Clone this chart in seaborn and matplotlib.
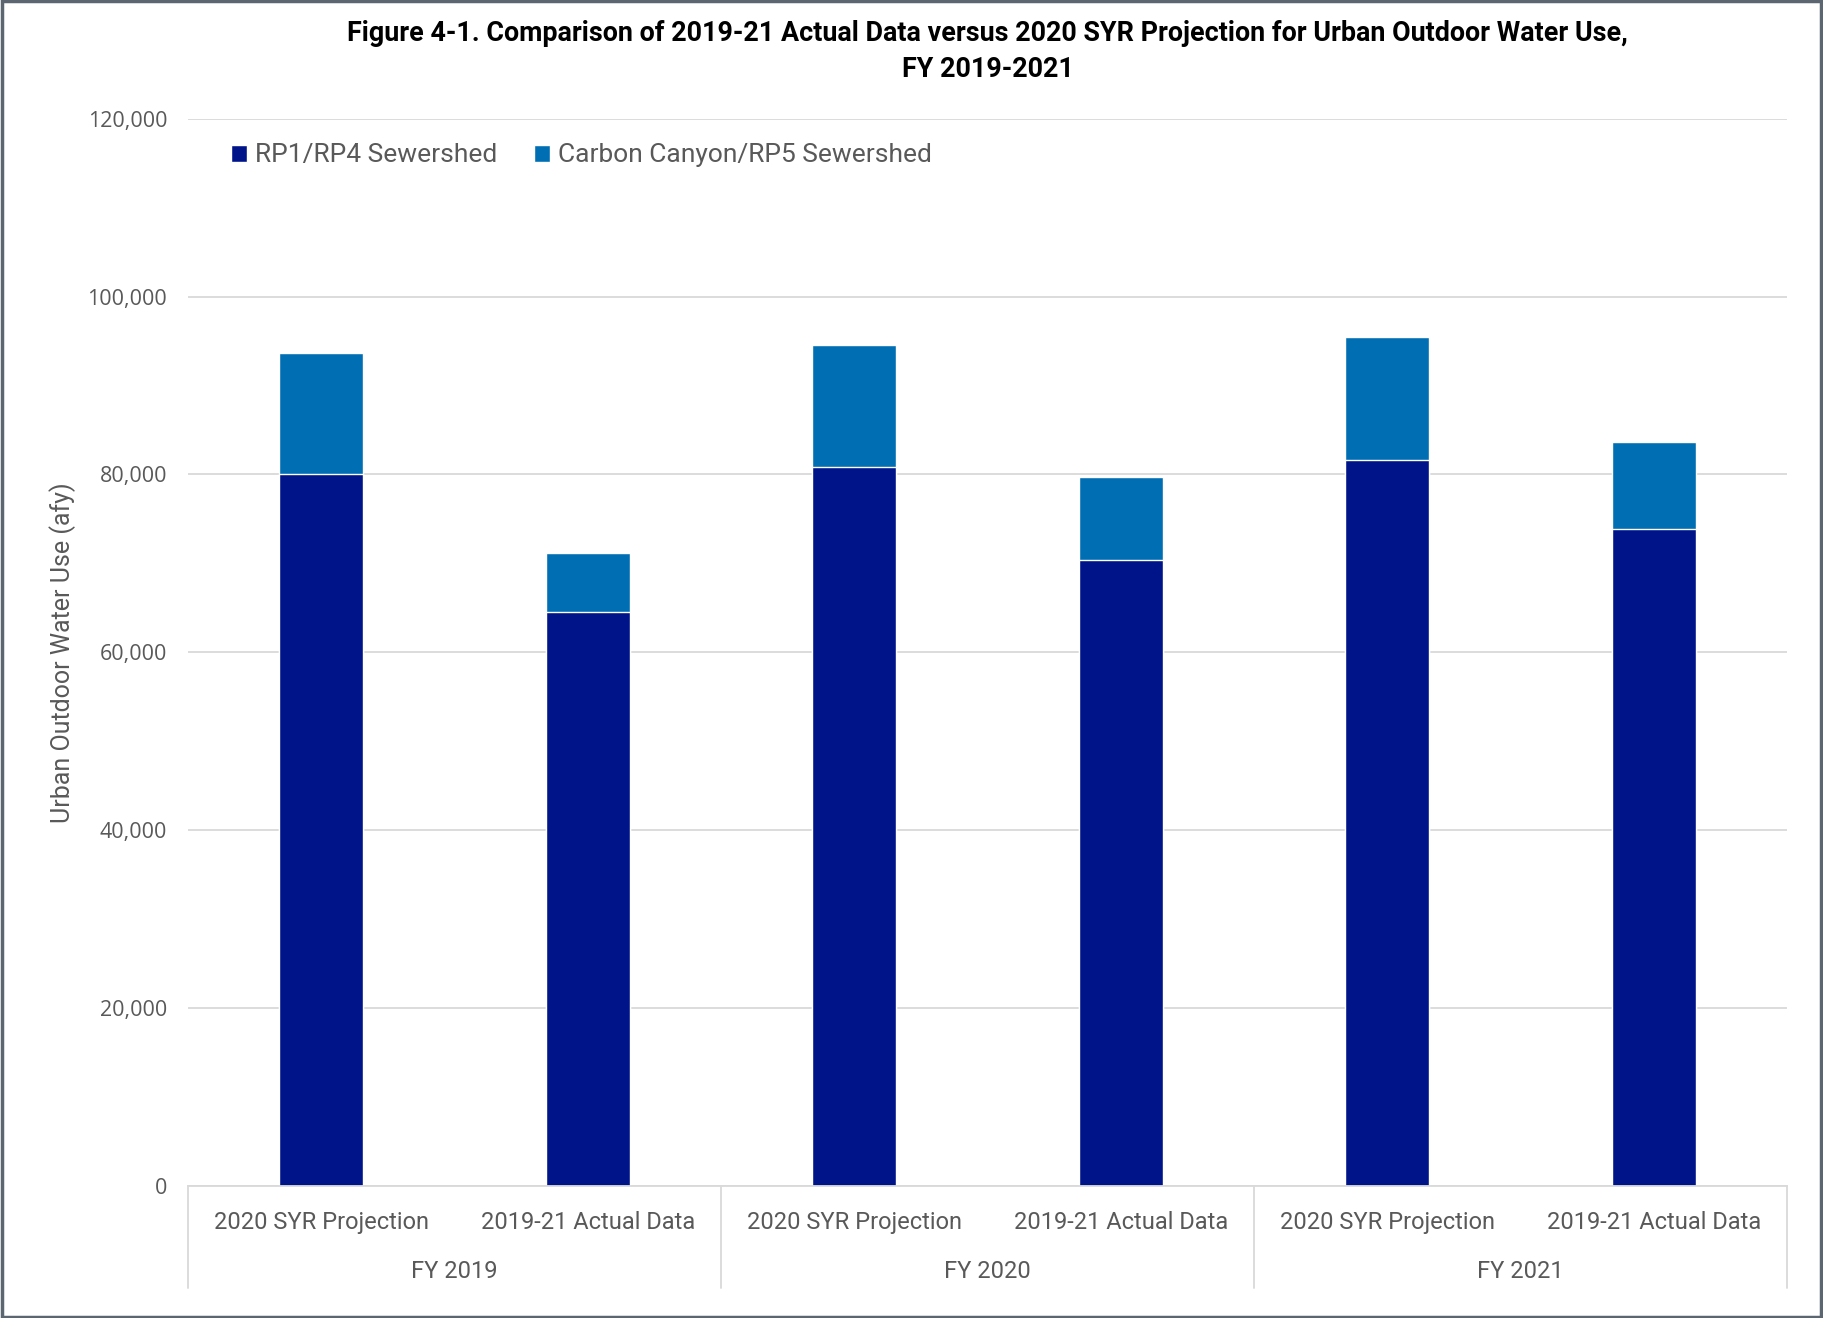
import matplotlib
matplotlib.use("Agg")
import matplotlib.pyplot as plt
import matplotlib.font_manager as fm
import matplotlib.transforms as mtransforms
from matplotlib.patches import Rectangle
from matplotlib.ticker import FuncFormatter
import seaborn as sns
import pandas as pd

# ---- data ----
years = ["FY 2019", "FY 2020", "FY 2021"]
scenarios = ["2020 SYR Projection", "2019-21 Actual Data"]
rp1_rp4 = [80100, 64500, 80800, 70400, 81600, 73900]
carbon_canyon_rp5 = [13600, 6700, 13800, 9300, 13800, 9700]
series_names = ["RP1/RP4 Sewershed", "Carbon Canyon/RP5 Sewershed"]
yticks = [0, 20000, 40000, 60000, 80000, 100000, 120000]

navy = "#00148A"
blue = "#006EB2"

sns.set_theme(style="white")

def pick(names):
    for n in names:
        try:
            fm.findfont(fm.FontProperties(family=n), fallback_to_default=False)
            return n
        except Exception:
            continue
    return "DejaVu Sans"

narrow = pick(["Liberation Sans Narrow", "Roboto", "Open Sans"])
plt.rcParams["font.family"] = [narrow, "DejaVu Sans"]

labels = [f"{y}|{s}" for y in years for s in scenarios]
df = pd.DataFrame({
    "cat": labels,
    "rp1": rp1_rp4,
    "cc": carbon_canyon_rp5,
})
df["total"] = df["rp1"] + df["cc"]

fig = plt.figure(figsize=(18.23, 13.18), dpi=100)
ax = fig.add_axes([0.1031, 0.1002, 0.8772, 0.8098])

sns.barplot(data=df, x="cat", y="total", color=blue, width=0.314, ax=ax,
            saturation=1, label=series_names[1])
sns.barplot(data=df, x="cat", y="rp1", color=navy, width=0.314, ax=ax,
            saturation=1, label=series_names[0])

ax.set_xlim(-0.5, len(labels) - 0.5)
ax.set_ylim(0, 120000)
ax.set_yticks(yticks)
ax.yaxis.set_major_formatter(FuncFormatter(lambda v, p: f"{int(v):,}"))
ax.grid(axis="y", color="#D9D9D9", linewidth=1.3)
ax.set_axisbelow(True)
for s in ["left", "right", "top"]:
    ax.spines[s].set_visible(False)
ax.spines["bottom"].set_color("#D9D9D9")
ax.spines["bottom"].set_linewidth(1.3)

ax.tick_params(axis="y", length=0, pad=15, labelsize=15.5, labelcolor="#595959")
for t in ax.get_yticklabels():
    t.set_fontfamily("Open Sans")

ax.set_xticks(range(len(labels)))
ax.set_xticklabels([s for y in years for s in scenarios])
ax.tick_params(axis="x", length=0, pad=18, labelsize=17, labelcolor="#595959")
ax.set_xlabel("")
ax.set_ylabel("Urban Outdoor Water Use (afy)", fontsize=18, color="#595959", labelpad=8)

# group labels and separators
trans = mtransforms.blended_transform_factory(ax.transData, ax.transAxes)
for i, y in enumerate(years):
    ax.text(2 * i + 0.5, -0.080, y, transform=trans, ha="center", va="center",
            fontsize=17, color="#595959")
for b in [-0.5, 1.5, 3.5, 5.5]:
    ax.plot([b, b], [0, -0.0955], transform=trans, color="#D9D9D9",
            linewidth=1.3, clip_on=False)

# legend
handles, labs = ax.get_legend_handles_labels()
order = [labs.index(series_names[0]), labs.index(series_names[1])]
leg = ax.legend([handles[i] for i in order], [labs[i] for i in order],
                loc="upper left", bbox_to_anchor=(0.012, 0.999), ncol=2,
                frameon=False, fontsize=19, handlelength=0.6, handleheight=0.6,
                handletextpad=0.3, columnspacing=1.4)
for t in leg.get_texts():
    t.set_color("#595959")

title_x = (0.1031 + 0.1031 + 0.8772) / 2
fig.text(title_x, 0.985, "Figure 4-1. Comparison of 2019-21 Actual Data versus 2020 SYR Projection for Urban Outdoor Water Use,\nFY 2019-2021",
         ha="center", va="top", fontsize=19.4, fontweight="bold", color="black",
         linespacing=1.45)

fig.patches.append(Rectangle((0.001, 0.001), 0.998, 0.998, transform=fig.transFigure,
                             fill=False, edgecolor="#5B6670", linewidth=2.5))

fig.savefig("out.png", dpi=100)
